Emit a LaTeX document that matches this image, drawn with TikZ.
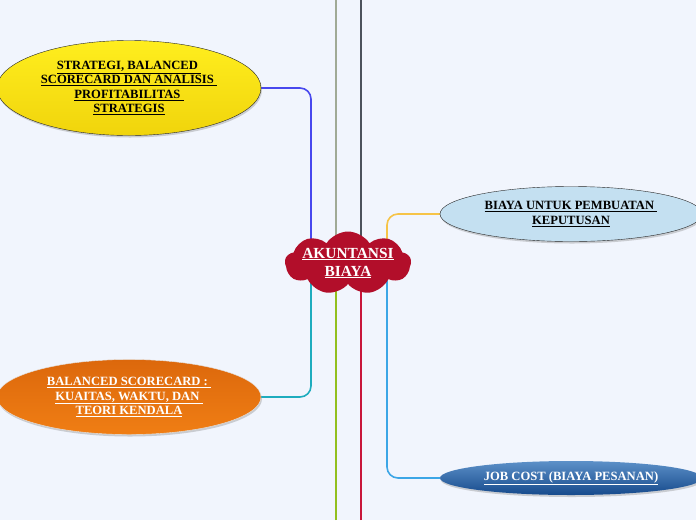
\documentclass[tikz,border=0pt]{standalone}
\usepackage{fontspec}
\setmainfont{Liberation Serif}
\usepackage{tikz}
\usetikzlibrary{shapes.symbols, shapes.geometric, shadows}

\definecolor{paper}{RGB}{241,245,253}
\definecolor{hubred}{RGB}{178,14,42}
\definecolor{topgray}{RGB}{160,170,150}
\definecolor{topdark}{RGB}{76,82,92}
\definecolor{lowgreen}{RGB}{146,192,30}
\definecolor{lowred}{RGB}{200,22,58}
\definecolor{linkblue}{RGB}{72,72,238}
\definecolor{linkorange}{RGB}{246,196,72}
\definecolor{linkteal}{RGB}{30,172,190}
\definecolor{linksky}{RGB}{60,166,230}

\pgfdeclarelayer{paperlayer}
\pgfdeclarelayer{links}
\pgfsetlayers{paperlayer,links,main}

\begin{document}
\begin{tikzpicture}[
  x=1pt, y=-1pt,
  topic/.style={ellipse, inner sep=0pt, align=center, font=\bfseries\fontsize{12.6}{14.3}\selectfont,
                drop shadow={opacity=0.35, shadow xshift=1pt, shadow yshift=-2pt}},
  link/.style={line width=1.6pt, rounded corners=11pt},
  trunk/.style={line width=2.8pt}
]
%% background
\begin{pgfonlayer}{paperlayer}
\fill[paper] (0,0) rectangle (696,520);
\end{pgfonlayer}
\useasboundingbox (0,0) rectangle (696,520);

%% central topic
\node[cloud, cloud puffs=9, cloud puff arc=115, cloud ignores aspect, fill=hubred, text=white,
      minimum width=126pt, minimum height=63pt, inner xsep=-2pt, inner ysep=-7pt, align=center,
      font=\bfseries\fontsize{15.4}{18}\selectfont] at (348,263) (hub)
      {\underline{AKUNTANSI}\\\underline{BIAYA}};

%% main topics
\node[topic, draw=black!85, top color={rgb,255:red,255;green,238;blue,30},
      bottom color={rgb,255:red,240;green,212;blue,12},
      minimum width=264pt, minimum height=95pt] at (129,88) (strat)
      {\underline{STRATEGI, BALANCED\ }\\\underline{SCORECARD DAN ANALISIS\ }\\
       \underline{PROFITABILITAS\ }\\\underline{STRATEGIS}};
\node[topic, draw=black!85, fill={rgb,255:red,196;green,224;blue,241},
      minimum width=262pt, minimum height=55pt] at (571,214) (keput)
      {\underline{BIAYA UNTUK PEMBUATAN\ }\\\underline{KEPUTUSAN}};
\node[topic, draw=white!80!gray, text=white, top color={rgb,255:red,220;green,104;blue,12},
      bottom color={rgb,255:red,240;green,126;blue,20},
      minimum width=264pt, minimum height=75pt] at (129,397) (kend)
      {\underline{BALANCED SCORECARD :\ }\\\underline{KUAITAS, WAKTU, DAN\ }\\
       \underline{TEORI KENDALA}};
\node[topic, text=white, top color={rgb,255:red,92;green,144;blue,200},
      bottom color={rgb,255:red,22;green,74;blue,140},
      minimum width=262pt, minimum height=34pt] at (571,478) (job)
      {\underline{JOB COST (BIAYA PESANAN)}};

%% anchor points on the hub
\coordinate (hubL) at (311,262);
\coordinate (hubR) at (387,262);
\coordinate (topA) at (336,0);
\coordinate (topB) at (361,0);
\coordinate (botA) at (336,520);
\coordinate (botB) at (361,520);

%% connectors
\begin{pgfonlayer}{links}
\draw[trunk, topgray] (topA) -- (topA |- hub);
\draw[trunk, topdark] (topB) -- (topB |- hub);
\draw[trunk, lowgreen] (botA) -- (botA |- hub);
\draw[trunk, lowred] (botB) -- (botB |- hub);
\draw[link, linkblue] (strat.east) -| (hubL);
\draw[link, linkteal] (kend.east) -| (hubL);
\draw[link, linkorange] (keput.west) -| (hubR);
\draw[link, linksky] (job.west) -| (hubR);
\end{pgfonlayer}
\end{tikzpicture}
\end{document}
